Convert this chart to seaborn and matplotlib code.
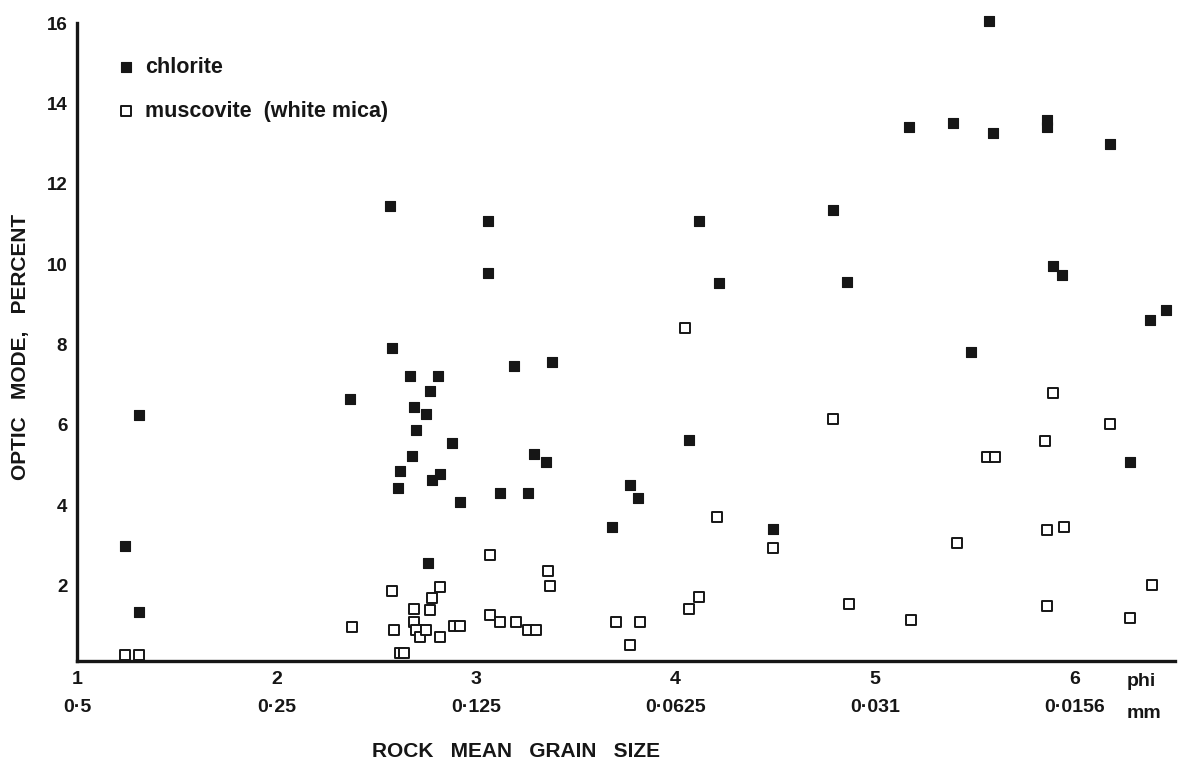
import matplotlib
matplotlib.use("Agg")
import matplotlib.pyplot as plt
import seaborn as sns
import pandas as pd

# ---- data ----
chlorite_phi = [1.24, 1.31, 1.31, 2.37, 2.57, 2.58, 2.67, 2.69, 2.70, 2.68, 2.62, 2.61,
                2.77, 2.75, 2.81, 2.82, 2.78, 2.76, 2.88, 2.92, 3.06, 3.06, 3.12, 3.19,
                3.26, 3.29, 3.35, 3.38, 3.68, 3.77, 3.81, 4.07, 4.12, 4.22, 4.49, 4.79,
                4.86, 5.17, 5.39, 5.48, 5.57, 5.59, 5.86, 5.86, 5.89, 5.94, 6.18, 6.28,
                6.38, 6.46]
chlorite_pct = [2.99, 6.24, 1.34, 6.64, 11.44, 7.91, 7.21, 6.44, 5.87, 5.22, 4.85, 4.43,
                6.84, 6.27, 7.21, 4.78, 4.63, 2.56, 5.55, 4.08, 11.07, 9.78, 4.30, 7.46,
                4.30, 5.27, 5.07, 7.56, 3.46, 4.50, 4.18, 5.62, 11.07, 9.53, 3.41, 11.34,
                9.55, 13.41, 13.51, 7.81, 16.04, 13.26, 13.58, 13.41, 9.95, 9.73, 12.99, 5.07,
                8.61, 8.86]

muscovite_phi = [1.24, 1.31, 2.38, 2.58, 2.59, 2.62, 2.64, 2.69, 2.69, 2.70, 2.72, 2.75,
                 2.77, 2.78, 2.82, 2.82, 2.89, 2.92, 3.07, 3.07, 3.12, 3.20, 3.26, 3.30,
                 3.36, 3.37, 3.70, 3.77, 3.82, 4.05, 4.07, 4.12, 4.21, 4.49, 4.79, 4.87,
                 5.18, 5.41, 5.56, 5.60, 5.85, 5.89, 5.86, 5.95, 5.86, 6.18, 6.28, 6.39]
muscovite_pct = [0.27, 0.27, 0.97, 1.87, 0.90, 0.32, 0.32, 1.42, 1.09, 0.90, 0.72, 0.90,
                 1.39, 1.69, 1.97, 0.72, 1.00, 1.00, 2.76, 1.27, 1.09, 1.09, 0.90, 0.90,
                 2.36, 1.99, 1.09, 0.52, 1.09, 8.41, 1.42, 1.72, 3.71, 2.94, 6.14, 1.54,
                 1.14, 3.06, 5.20, 5.20, 5.60, 6.79, 3.38, 3.46, 1.49, 6.02, 1.19, 2.01]

phi_ticks = [1, 2, 3, 4, 5, 6]
mm_labels = ["0·5", "0·25", "0·125", "0·0625", "0·031", "0·0156"]
y_ticks = [2, 4, 6, 8, 10, 12, 14, 16]

series_names = ["chlorite", "muscovite  (white mica)"]

df = pd.DataFrame({
    "phi": chlorite_phi + muscovite_phi,
    "pct": chlorite_pct + muscovite_pct,
    "mineral": [series_names[0]] * len(chlorite_phi) + [series_names[1]] * len(muscovite_phi),
})

sns.set_theme(style="white")
plt.rcParams["font.family"] = ["Liberation Sans", "DejaVu Sans"]
plt.rcParams["font.weight"] = "bold"

INK = "#161616"
W, H = 1181, 762
fig = plt.figure(figsize=(W / 100, H / 100), dpi=100)
ax = fig.add_axes([77 / W, 1 - 661 / H, 1098 / W, (661 - 23) / H])

d1 = df[df.mineral == series_names[0]]
d2 = df[df.mineral == series_names[1]]
sns.scatterplot(data=d1, x="phi", y="pct", marker="s", s=55, color=INK,
                edgecolor=INK, linewidth=0.8, ax=ax, label=series_names[0],
                clip_on=False, zorder=3)
sns.scatterplot(data=d2, x="phi", y="pct", marker="s", s=48, color="white",
                edgecolor=INK, linewidth=1.4, ax=ax, label=series_names[1],
                clip_on=False, zorder=3)

ax.set_xlim(1, 6.504)
ax.set_ylim(0.12, 16.0)

for side in ["top", "right"]:
    ax.spines[side].set_visible(False)
for side in ["left", "bottom"]:
    ax.spines[side].set_linewidth(2.4)
    ax.spines[side].set_color(INK)

ax.set_xticks(phi_ticks)
ax.set_xticklabels([f"{p}\n{m}" for p, m in zip(phi_ticks, mm_labels)],
                   fontsize=14, fontweight="bold", linespacing=1.9, color=INK)
ax.set_yticks(y_ticks)
ax.set_yticklabels([str(v) for v in y_ticks], fontsize=13.5, fontweight="bold", color=INK)
ax.tick_params(axis="both", direction="out", length=4, width=1.5, color=INK)
ax.tick_params(axis="x", pad=3)
ax.tick_params(axis="y", pad=3)

# unit labels at right end
fig.text(1127 / W, 1 - 682 / H, "phi", fontsize=14, fontweight="bold", color=INK,
         ha="left", va="center")
fig.text(1127 / W, 1 - 714 / H, "mm", fontsize=14, fontweight="bold", color=INK,
         ha="left", va="center")

ax.set_xlabel("ROCK   MEAN   GRAIN   SIZE", fontsize=15, fontweight="bold", color=INK)
ax.xaxis.set_label_coords((516 - 77) / 1098, -(742 - 661) / 638)
ax.set_ylabel("OPTIC   MODE,   PERCENT", fontsize=15, fontweight="bold", color=INK)
ax.yaxis.set_label_coords(-(77 - 30) / 1098, (661 - 347) / 638)

leg = ax.legend(loc="upper left", bbox_to_anchor=(0.027, 0.96), frameon=False,
                fontsize=15.5, labelspacing=1.05, handlelength=1.0, handletextpad=0.4,
                borderaxespad=0, markerscale=1.0)
for t in leg.get_texts():
    t.set_fontweight("bold")
    t.set_color(INK)

fig.savefig("out.png", dpi=100, facecolor="white")
